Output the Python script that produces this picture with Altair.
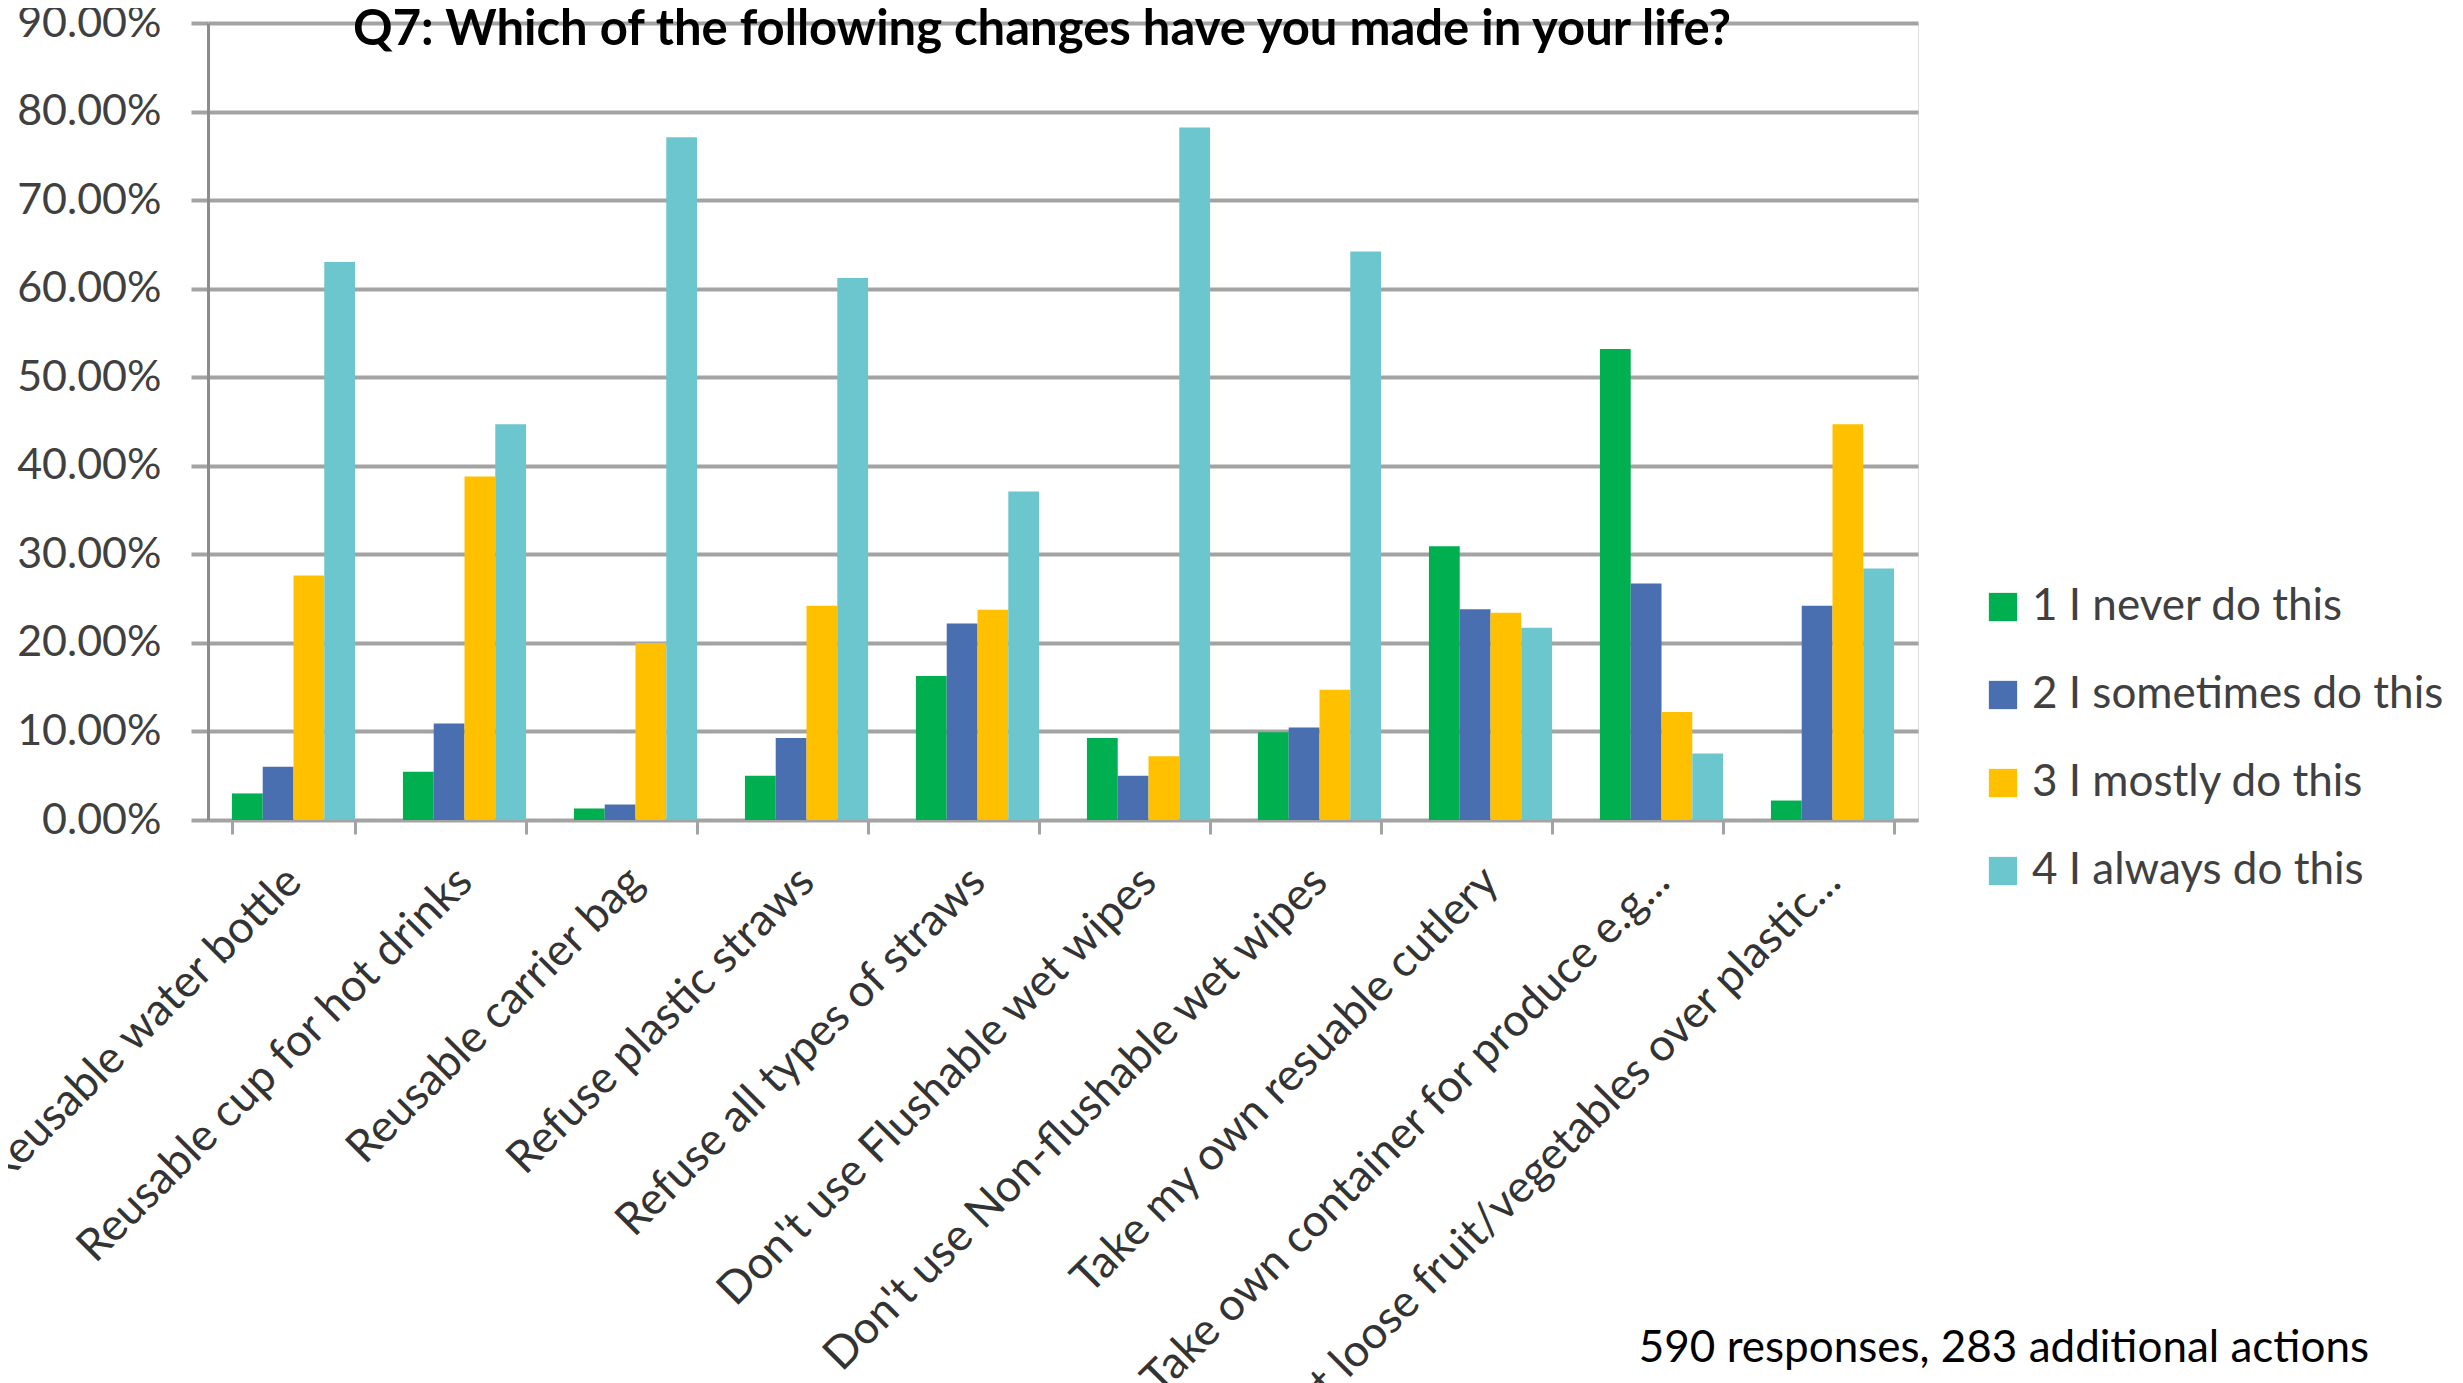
import altair as alt
import pandas as pd

categories = [
    "Reusable water bottle",
    "Reusable cup for hot drinks",
    "Reusable carrier bag",
    "Refuse plastic straws",
    "Refuse all types of straws",
    "Don't use Flushable wet wipes",
    "Don't use Non-flushable wet wipes",
    "Take my own resuable cutlery",
    "Take own container for produce e.g...",
    "Bought loose fruit/vegetables over plastic...",
]
series = ["1 I never do this", "2 I sometimes do this", "3 I mostly do this", "4 I always do this"]
never = [3.0, 5.45, 1.3, 5.0, 16.25, 9.25, 9.9, 30.9, 53.2, 2.2]
sometimes = [6.0, 10.9, 1.75, 9.25, 22.2, 5.0, 10.45, 23.8, 26.7, 24.2]
mostly = [27.6, 38.8, 20.0, 24.2, 23.75, 7.2, 14.7, 23.4, 12.2, 44.7]
always = [63.0, 44.7, 77.1, 61.2, 37.1, 78.2, 64.2, 21.7, 7.5, 28.4]
colors = ["#00B050", "#4A6FB0", "#FFC000", "#6CC6CD"]
y_ticks = [0, 10, 20, 30, 40, 50, 60, 70, 80, 90]
title_text = "Q7: Which of the following changes have you made in your life?"
note_text = "590 responses, 283 additional actions"

rows = []
for s, vals in zip(series, [never, sometimes, mostly, always]):
    for c, v in zip(categories, vals):
        rows.append({"category": c, "series": s, "value": v / 100.0})
df = pd.DataFrame(rows)

FONT = "Lato"
GRID = "#a3a3a3"

bars = alt.Chart(df).mark_bar().encode(
    x=alt.X(
        "category:N",
        sort=categories,
        scale=alt.Scale(paddingInner=0.28, paddingOuter=0.14),
        axis=alt.Axis(
            title=None,
            labelAngle=-45,
            labelAlign="right",
            labelBaseline="middle",
            labelFont=FONT,
            labelFontSize=45,
            labelColor="#333333",
            labelLimit=3000,
            labelPadding=40,
            tickBand="extent",
            tickSize=14,
            tickColor=GRID,
            tickWidth=3,
            domainColor=GRID,
            domainWidth=3,
            grid=False,
        ),
    ),
    xOffset=alt.XOffset("series:N", sort=series),
    y=alt.Y(
        "value:Q",
        scale=alt.Scale(domain=[0, 0.9], nice=False),
        axis=alt.Axis(
            title=None,
            format=".2%",
            values=[t / 100.0 for t in y_ticks],
            labelFont=FONT,
            labelFontSize=43,
            labelColor="#404040",
            labelPadding=30,
            tickSize=17,
            tickColor=GRID,
            tickWidth=4,
            domainColor="#8c8c8c",
            domainWidth=3,
            grid=True,
            gridColor=GRID,
            gridWidth=4,
        ),
    ),
    color=alt.Color(
        "series:N",
        sort=series,
        scale=alt.Scale(domain=series, range=colors),
        legend=alt.Legend(
            title=None,
            orient="none",
            legendX=1773,
            legendY=562,
            padding=0,
            symbolType="square",
            symbolSize=800,
            symbolStrokeWidth=0,
            labelFont=FONT,
            labelFontSize=44,
            labelColor="#404040",
            labelOffset=7,
            rowPadding=44,
            labelLimit=1000,
        ),
    ),
)

title = alt.Chart(pd.DataFrame({"t": [title_text]})).mark_text(
    font=FONT, fontSize=49, fontWeight="bold", color="#000000", align="center", baseline="alphabetic"
).encode(text="t:N", x=alt.value(834), y=alt.value(22))

note = alt.Chart(pd.DataFrame({"t": [note_text]})).mark_text(
    font=FONT, fontSize=44, color="#000000", align="right", baseline="alphabetic"
).encode(text="t:N", x=alt.value(2161), y=alt.value(1339))

chart = alt.layer(bars, title, note).properties(
    width=1710,
    height=797,
    autosize=alt.AutoSizeParams(type="none"),
    padding={"left": 200, "top": 15, "right": 537, "bottom": 563},
).configure_view(strokeWidth=0).configure(background="white")

chart.save("out.html", embed_options={"renderer": "svg", "actions": False})
